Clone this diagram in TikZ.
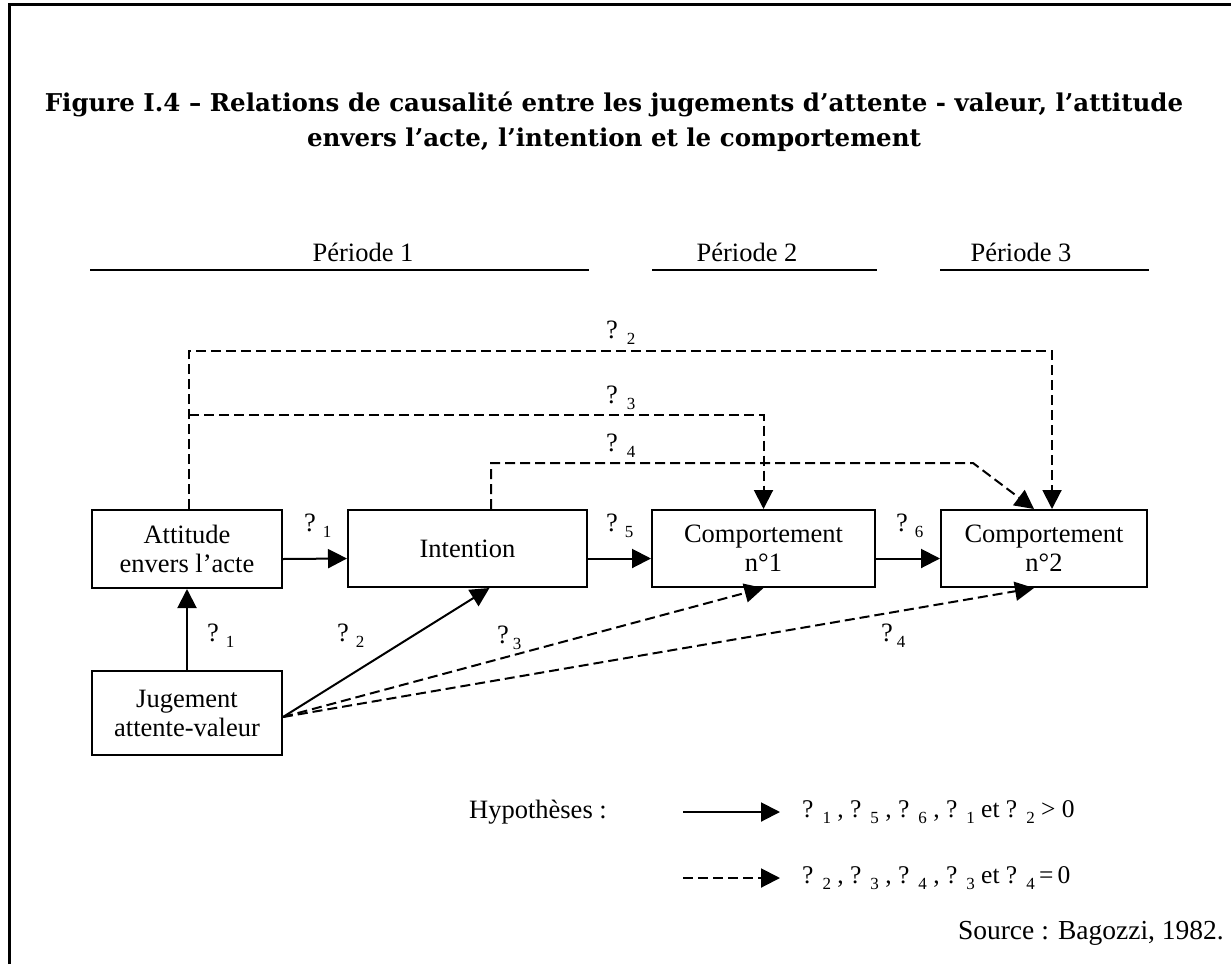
\documentclass[tikz,border=0pt]{standalone}
\usepackage{fontspec}
\setmainfont{Liberation Serif}
\newfontfamily\titlefont{DejaVu Serif}
\usetikzlibrary{arrows.meta,calc}
\newcommand{\qq}[2][7pt]{?\hspace{#1}\raisebox{-6pt}{\fontsize{17}{17}\selectfont #2}}
\begin{document}
\begin{tikzpicture}[x=1pt,y=-1pt,
  font=\fontsize{26.5}{29}\selectfont,
  box/.style={draw, line width=2pt, inner sep=0pt, align=center, minimum height=77pt},
  arr/.style={line width=2pt, -{Triangle[length=19pt,width=19pt]}},
  darr/.style={arr, dash pattern=on 10pt off 5pt},
  lab/.style={anchor=base west, inner sep=0pt},
  legend/.style={anchor=base west, inner sep=0pt, font=\fontsize{25.5}{28}\selectfont},
  periodline/.style={line width=2pt}]
\useasboundingbox (0,0) rectangle (1231,964);
\draw[line width=3pt] (9.5,964) -- (9.5,4) -- (1231,4);

% title
\node[align=center, inner sep=0pt, font=\titlefont\bfseries\fontsize{24.5}{35}\selectfont] (title) at (614,122)
  {Figure I.4 – Relations de causalité entre les jugements d’attente - valeur, l’attitude\\envers l’acte, l’intention et le comportement};

% periods
\node (p1) at (363,252) {Période 1};
\node (p2) at (747,252) {Période 2};
\node (p3) at (1021,252) {Période 3};
\draw[periodline] (90,270) -- (589,270);
\draw[periodline] (652,270) -- (877,270);
\draw[periodline] (940,270) -- (1149,270);

% boxes
\node[box, minimum width=190pt, minimum height=78pt] (att) at (187,549) {Attitude\\envers l’acte};
\node[box, minimum width=239pt] (int) at (467.5,548.5) {Intention};
\node[box, minimum width=223pt] (c1) at (763.5,548.5) {Comportement\\n°1};
\node[box, minimum width=206pt] (c2) at (1044,548.5) {Comportement\\n°2};
\node[box, minimum width=190pt, minimum height=84pt] (jug) at (187,713) {Jugement\\attente-valeur};

% solid arrows
\draw[arr] ([yshift=-10pt]att.east) -- ([yshift=-10pt]int.west);
\draw[arr] ([yshift=-10pt]int.east) -- ([yshift=-10pt]c1.west);
\draw[arr] ([yshift=-10pt]c1.east) -- ([yshift=-10pt]c2.west);
\draw[arr] (jug.north) -- (att.south);
\draw[arr] ([yshift=-4pt]jug.east) -- ([xshift=22pt]int.south);

% dashed arrows, top
\coordinate (top2) at (600,351);
\coordinate (br3) at (189,415);
\coordinate (k4) at (973,463);
\draw[darr] ([xshift=2pt]att.north) |- (top2) -| ([xshift=8pt]c2.north);
\draw[darr] (br3) -| (c1.north);
\draw[darr] ([xshift=23.5pt]int.north) |- (k4) -- ([xshift=-10pt]c2.north);

% dashed arrows, bottom
\draw[darr] ([yshift=-4pt]jug.east) -- (c1.south);
\draw[darr] ([yshift=-4pt]jug.east) -- ([xshift=-10pt]c2.south);

% labels
\node[lab] (g2) at (606,338.5) {\qq[9pt]{2}};
\node[lab] (g3) at (606,403.5) {\qq[9pt]{3}};
\node[lab] (g4) at (606,451.5) {\qq[9pt]{4}};
\node[lab] (b1) at (304,531.5) {\qq{1}};
\node[lab] (b5) at (606,531.5) {\qq{5}};
\node[lab] (b6) at (896,531.5) {\qq{6}};
\node[lab] (a1) at (207,641.5) {\qq{1}};
\node[lab] (a2) at (337,641.5) {\qq{2}};
\node[lab] (a3) at (497,643.5) {\qq[4pt]{3}};
\node[lab] (a4) at (881,641.5) {\qq[4pt]{4}};

% legend
\node[anchor=east, inner sep=0pt] (hyp) at (607,812) {Hypothèses :};
\coordinate (ls1) at (683,812);
\coordinate (le1) at (780,812);
\coordinate (ls2) at (683,878);
\coordinate (le2) at (780,878);
\draw[arr] (ls1) -- (le1);
\draw[darr] (ls2) -- (le2);
\node[legend] (leg1) at (802,817) {\qq[9pt]{1} , \qq[9pt]{5} , \qq[9pt]{6} , \qq[9pt]{1} et \qq[9pt]{2} > 0};
\node[legend] (leg2) at (802,883) {\qq[9pt]{2} , \qq[9pt]{3} , \qq[9pt]{4} , \qq[9pt]{3} et \qq[9pt]{4}\,=\,0};

% source
\node[anchor=east, inner sep=0pt, font=\fontsize{27.5}{30}\selectfont] (src) at (1224,933) {Source : Bagozzi, 1982.};
\end{tikzpicture}
\end{document}
